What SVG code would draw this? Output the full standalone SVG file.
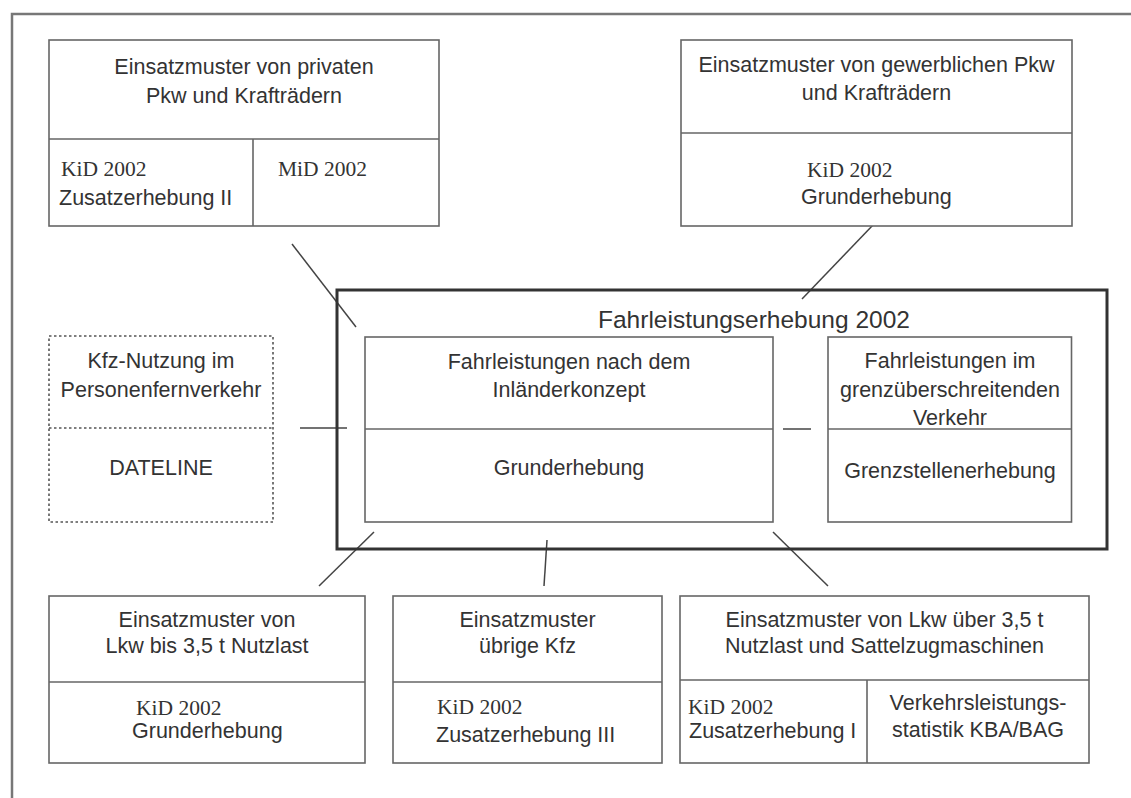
<svg xmlns="http://www.w3.org/2000/svg" width="1131" height="798" viewBox="0 0 1131 798">
<style>
.bx{fill:#fff;stroke:#666;stroke-width:1.6}
.dv{stroke:#666;stroke-width:1.6;fill:none}
.dot{fill:#fff;stroke:#555;stroke-width:1.6;stroke-dasharray:2.5 2.5}
.thick{fill:none;stroke:#333;stroke-width:3}
.frame{fill:none;stroke:#777;stroke-width:2.5}
.cn{stroke:#444;stroke-width:1.5;fill:none}
.t{font-family:"Liberation Sans",Arial,sans-serif;font-size:21.5px;fill:#333}
.c{text-anchor:middle}
.s{font-family:"Liberation Serif","Times New Roman",serif;font-size:21.5px;fill:#333}
.ttl{font-family:"Liberation Sans",Arial,sans-serif;font-size:24.5px;fill:#333}
</style>
<rect width="1131" height="798" fill="#fff"/>
<path class="frame" d="M12,798 V14 H1131"/>

<g id="connectors">
<line class="cn" x1="292" y1="244" x2="356" y2="327"/>
<line class="cn" x1="873" y1="225" x2="802" y2="299"/>
<line class="cn" x1="300" y1="428" x2="347" y2="428"/>
<line class="cn" x1="783" y1="429" x2="811" y2="429"/>
<line class="cn" x1="374" y1="532" x2="319" y2="586"/>
<line class="cn" x1="547" y1="540" x2="544" y2="586"/>
<line class="cn" x1="773" y1="532" x2="828" y2="586"/>
</g>

<g id="privat">
<rect class="bx" x="49" y="40" width="390" height="186"/>
<path class="dv" d="M49,139 H439 M253,139 V226"/>
<text class="t c" x="244" y="74">Einsatzmuster von privaten</text>
<text class="t c" x="244" y="103">Pkw und Krafträdern</text>
<text class="s" x="61" y="176">KiD 2002</text>
<text class="t" x="59" y="205">Zusatzerhebung II</text>
<text class="s" x="278" y="176">MiD 2002</text>
</g>

<g id="gewerblich">
<rect class="bx" x="681" y="40" width="391" height="186"/>
<path class="dv" d="M681,133 H1072"/>
<text class="t c" x="876.5" y="72">Einsatzmuster von gewerblichen Pkw</text>
<text class="t c" x="876.5" y="100">und Krafträdern</text>
<text class="s" x="807" y="177">KiD 2002</text>
<text class="t" x="801" y="204">Grunderhebung</text>
</g>

<g id="kfz-nutzung">
<rect class="dot" x="49" y="336" width="224" height="186"/>
<path class="dot" d="M49,428 H273"/>
<text class="t c" x="161" y="368">Kfz-Nutzung im</text>
<text class="t c" x="161" y="397">Personenfernverkehr</text>
<text class="t c" x="161" y="475">DATELINE</text>
</g>

<g id="fahrleistungserhebung">
<rect class="thick" x="337" y="290" width="770" height="259"/>
<text class="ttl" x="598" y="328">Fahrleistungserhebung 2002</text>
</g>

<g id="inlaender">
<rect class="bx" x="365" y="337" width="408" height="185"/>
<path class="dv" d="M365,429 H773"/>
<text class="t c" x="569" y="369">Fahrleistungen nach dem</text>
<text class="t c" x="569" y="397">Inländerkonzept</text>
<text class="t c" x="569" y="475">Grunderhebung</text>
</g>

<g id="grenz">
<rect class="bx" x="828" y="337" width="243.5" height="185"/>
<path class="dv" d="M828,429 H1071.5"/>
<text class="t c" x="950" y="368">Fahrleistungen im</text>
<text class="t c" x="950" y="397">grenzüberschreitenden</text>
<text class="t c" x="950" y="425">Verkehr</text>
<text class="t c" x="950" y="478">Grenzstellenerhebung</text>
</g>

<g id="lkw-klein">
<rect class="bx" x="49" y="596" width="316" height="167"/>
<path class="dv" d="M49,682 H365"/>
<text class="t c" x="207" y="627">Einsatzmuster von</text>
<text class="t c" x="207" y="653">Lkw bis 3,5 t Nutzlast</text>
<text class="s" x="136" y="715">KiD 2002</text>
<text class="t" x="132" y="738">Grunderhebung</text>
</g>

<g id="uebrige">
<rect class="bx" x="393" y="596" width="269" height="167"/>
<path class="dv" d="M393,682 H662"/>
<text class="t c" x="527.5" y="627">Einsatzmuster</text>
<text class="t c" x="527.5" y="653">übrige Kfz</text>
<text class="s" x="437" y="714">KiD 2002</text>
<text class="t" x="436" y="742">Zusatzerhebung III</text>
</g>

<g id="lkw-gross">
<rect class="bx" x="680" y="596" width="409" height="167"/>
<path class="dv" d="M680,680 H1089 M867,680 V763"/>
<text class="t c" x="884.5" y="627">Einsatzmuster von Lkw über 3,5 t</text>
<text class="t c" x="884.5" y="653">Nutzlast und Sattelzugmaschinen</text>
<text class="s" x="688" y="714">KiD 2002</text>
<text class="t" x="689" y="738">Zusatzerhebung I</text>
<text class="t c" x="978" y="710">Verkehrsleistungs-</text>
<text class="t c" x="978" y="737">statistik KBA/BAG</text>
</g>
</svg>
